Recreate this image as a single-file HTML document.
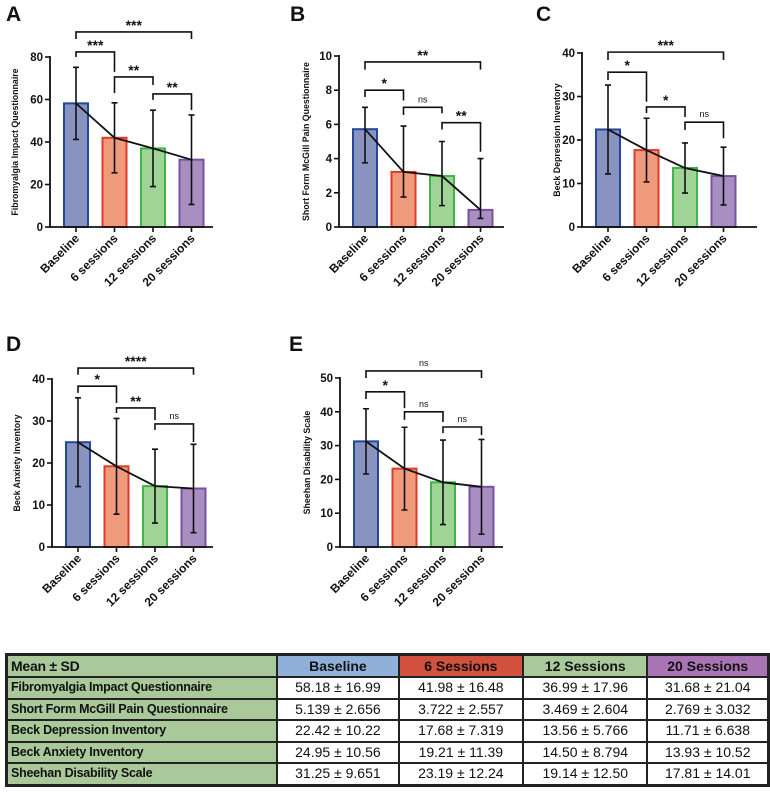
<!DOCTYPE html>
<html><head><meta charset="utf-8">
<style>
html,body{margin:0;padding:0;background:#fff;width:770px;height:794px;overflow:hidden;font-family:"Liberation Sans",Arial,sans-serif;}
svg{position:absolute;left:0;top:0;}
#tbl{position:absolute;left:5px;top:653px;border-collapse:collapse;border:3px solid #222;}
#tbl td{border:2px solid #222;height:19.5px;padding:0 3px;font-size:14px;text-align:center;color:#111;white-space:nowrap;line-height:17px;}
#tbl td.lab{text-align:left;font-weight:bold;font-size:12.5px;letter-spacing:-0.25px;background:#a9c99b;width:263px;}
#tbl tr.hd td{height:20px;font-weight:bold;font-size:14px;}
</style></head>
<body>
<svg id="chart" width="770" height="640" viewBox="0 0 770 640"></svg>
<table id="tbl">
<tr class="hd">
<td class="lab">Mean ± SD</td>
<td style="background:#8fb1d9;width:114px">Baseline</td>
<td style="background:#d2503e;width:117px">6 Sessions</td>
<td style="background:#a9c99b;width:117px">12 Sessions</td>
<td style="background:#a974b3;width:113px">20 Sessions</td>
</tr>
<tr><td class="lab">Fibromyalgia Impact Questionnaire</td><td>58.18 ± 16.99</td><td>41.98 ± 16.48</td><td>36.99 ± 17.96</td><td>31.68 ± 21.04</td></tr>
<tr><td class="lab">Short Form McGill Pain Questionnaire</td><td>5.139 ± 2.656</td><td>3.722 ± 2.557</td><td>3.469 ± 2.604</td><td>2.769 ± 3.032</td></tr>
<tr><td class="lab">Beck Depression Inventory</td><td>22.42 ± 10.22</td><td>17.68 ± 7.319</td><td>13.56 ± 5.766</td><td>11.71 ± 6.638</td></tr>
<tr><td class="lab">Beck Anxiety Inventory</td><td>24.95 ± 10.56</td><td>19.21 ± 11.39</td><td>14.50 ± 8.794</td><td>13.93 ± 10.52</td></tr>
<tr><td class="lab">Sheehan Disability Scale</td><td>31.25 ± 9.651</td><td>23.19 ± 12.24</td><td>19.14 ± 12.50</td><td>17.81 ± 14.01</td></tr>
</table>
<script>
const categories = ["Baseline","6 sessions","12 sessions","20 sessions"];
// Panel A: Fibromyalgia Impact Questionnaire
const meanA = [58.18, 41.98, 36.99, 31.68];
const sdA = [16.99, 16.48, 17.96, 21.04];
const ticksA = [0, 20, 40, 60, 80];
const bracketsA = [[0,3,91.8,88.5,88.5,"***"],[0,1,82.4,80,73,"***"],[1,2,70.6,63,66.8,"**"],[2,3,62.6,59.8,55,"**"]];
// Panel B: Short Form McGill (plotted values)
const meanB = [5.72, 3.22, 2.98, 1.0];
const lowB = [3.75, 1.75, 1.25, 0.5];
const highB = [7.0, 5.9, 5.0, 4.0];
const ticksB = [0, 2, 4, 6, 8, 10];
const bracketsB = [[0,3,9.65,9.2,9.2,"**"],[0,1,8.0,7.6,7.4,"*"],[1,2,7.0,6.55,6.65,"ns"],[2,3,6.1,5.7,4.4,"**"]];
// Panel C: Beck Depression Inventory
const meanC = [22.42, 17.68, 13.56, 11.71];
const sdC = [10.22, 7.319, 5.766, 6.638];
const ticksC = [0, 10, 20, 30, 40];
const bracketsC = [[0,3,40.2,38.4,38.4,"***"],[0,1,35.6,33.8,28.8,"*"],[1,2,27.6,26.2,25.3,"*"],[2,3,24.1,22.3,20.4,"ns"]];
// Panel D: Beck Anxiety Inventory
const meanD = [24.95, 19.21, 14.50, 13.93];
const sdD = [10.56, 11.39, 8.794, 10.52];
const ticksD = [0, 10, 20, 30, 40];
const bracketsD = [[0,3,42.6,41,41,"****"],[0,1,38.3,36.7,34.3,"*"],[1,2,33.1,31.9,30.2,"**"],[2,3,29.3,27.9,25,"ns"]];
// Panel E: Sheehan Disability Scale
const meanE = [31.25, 23.19, 19.14, 17.81];
const sdE = [9.651, 12.24, 12.50, 14.01];
const ticksE = [0, 10, 20, 30, 40, 50];
const bracketsE = [[0,3,52.1,50,50,"ns"],[0,1,45.9,43.8,41.1,"*"],[1,2,40,37.6,37,"ns"],[2,3,35.5,33.7,33.1,"ns"]];

const fills = ["#8893c0","#f09a7c","#a0d497","#a88fc2"];
const strokes = ["#23479b","#e2392b","#3db54a","#7a50a2"];
const NS = "http://www.w3.org/2000/svg";
const svg = document.getElementById("chart");
function mk(tag, attrs, parent){
  const e = document.createElementNS(NS, tag);
  for (const k in attrs) e.setAttribute(k, attrs[k]);
  (parent||svg).appendChild(e);
  return e;
}
function panel(cfg, means, lows, highs, ticks, brackets){
  const g = mk("g", {});
  
  
  const ymax = ticks[ticks.length-1];
  const y = v => cfg.y0 - (v / ymax) * (cfg.y0 - cfg.ytop);
  const x = i => cfg.ax + 26 + i * 38.5;
  const lt = mk("text", {x: cfg.lx, y: cfg.ly, "font-size": 21, "font-weight": "bold", fill: "#111"}, g);
  lt.textContent = cfg.letter;
  
  
  means.forEach((m, i) => {
    const r = mk("rect", {x: x(i) - 12, y: y(m), width: 24, height: cfg.y0 - y(m), fill: fills[i], stroke: strokes[i], "stroke-width": 2}, g);
    
    
  });
  means.forEach((m, i) => {
    const lo = y(lows[i]), hi = y(highs[i]);
    const eb = mk("path", {d: `M${x(i)},${lo}V${hi}M${x(i)-3},${lo}H${x(i)+3}M${x(i)-3},${hi}H${x(i)+3}`, stroke: "#111", "stroke-width": 1.6, fill: "none"}, g);
    
    
  });
  const pl = mk("polyline", {points: means.map((m, i) => x(i) + "," + y(m)).join(" "), fill: "none", stroke: "#111", "stroke-width": 1.8}, g);
  
  
  const ax = mk("path", {d: `M${cfg.ax},${cfg.ytop - 1}V${cfg.y0}H${cfg.xend}`, stroke: "#111", "stroke-width": 1.8, fill: "none"}, g);
  
  
  ticks.forEach(t => {
    mk("line", {x1: cfg.ax - 5, x2: cfg.ax, y1: y(t), y2: y(t), stroke: "#111", "stroke-width": 1.6}, g);
    const tl = mk("text", {x: cfg.ax - 7, y: y(t) + 4, "font-size": 11.5, "font-weight": "bold", "text-anchor": "end", fill: "#111"}, g);
    tl.textContent = t;
    
    
  });
  categories.forEach((c, i) => {
    mk("line", {x1: x(i), x2: x(i), y1: cfg.y0, y2: cfg.y0 + 5, stroke: "#111", "stroke-width": 1.6}, g);
    const tx = x(i) + 4, ty = cfg.y0 + 12;
    const cl = mk("text", {x: tx, y: ty, "font-size": 12, "font-weight": "bold", "text-anchor": "end", fill: "#111", transform: `rotate(-45 ${tx} ${ty})`}, g);
    cl.textContent = c;
    
    
  });
  const cy = (cfg.y0 + cfg.ytop) / 2;
  const yt = mk("text", {x: cfg.tx, y: cy, "font-size": 8.8, "font-weight": "bold", "text-anchor": "middle", fill: "#111", transform: `rotate(-90 ${cfg.tx} ${cy})`}, g);
  yt.textContent = cfg.title;
  
  
  brackets.forEach(b => {
    const [i, j, v, l, r, lab] = b;
    const bp = mk("path", {d: `M${x(i)},${y(l)}V${y(v)}H${x(j)}V${y(r)}`, stroke: "#111", "stroke-width": 1.6, fill: "none"}, g);
    
    
    const ns = lab === "ns";
    const st = mk("text", {x: (x(i) + x(j)) / 2, y: y(v) - (ns ? 5 : 2), "font-size": ns ? 9 : 14, "font-weight": ns ? "normal" : "bold", "text-anchor": "middle", fill: "#111"}, g);
    st.textContent = lab;
    
    
  });
}
const lo = (m, s) => m.map((v, i) => v - s[i]);
const hi = (m, s) => m.map((v, i) => v + s[i]);
panel({id:"a", letter:"A", lx:6, ly:21, ax:50, y0:227, ytop:57, xend:213, tx:18, title:"Fibromyalgia Impact Questionnaire"}, meanA, lo(meanA, sdA), hi(meanA, sdA), ticksA, bracketsA);
panel({id:"b", letter:"B", lx:290, ly:21, ax:339, y0:227, ytop:56, xend:504, tx:309, title:"Short Form McGill Pain Questionnaire"}, meanB, lowB, highB, ticksB, bracketsB);
panel({id:"c", letter:"C", lx:536, ly:21, ax:582, y0:227, ytop:53, xend:757, tx:560, title:"Beck Depression Inventory"}, meanC, lo(meanC, sdC), hi(meanC, sdC), ticksC, bracketsC);
panel({id:"d", letter:"D", lx:6, ly:351, ax:52, y0:547, ytop:379, xend:213, tx:20, title:"Beck Anxiety Inventory"}, meanD, lo(meanD, sdD), hi(meanD, sdD), ticksD, bracketsD);
panel({id:"e", letter:"E", lx:289, ly:351, ax:340, y0:547, ytop:378, xend:503, tx:310, title:"Sheehan Disability Scale"}, meanE, lo(meanE, sdE), hi(meanE, sdE), ticksE, bracketsE);
</script>
</body></html>
